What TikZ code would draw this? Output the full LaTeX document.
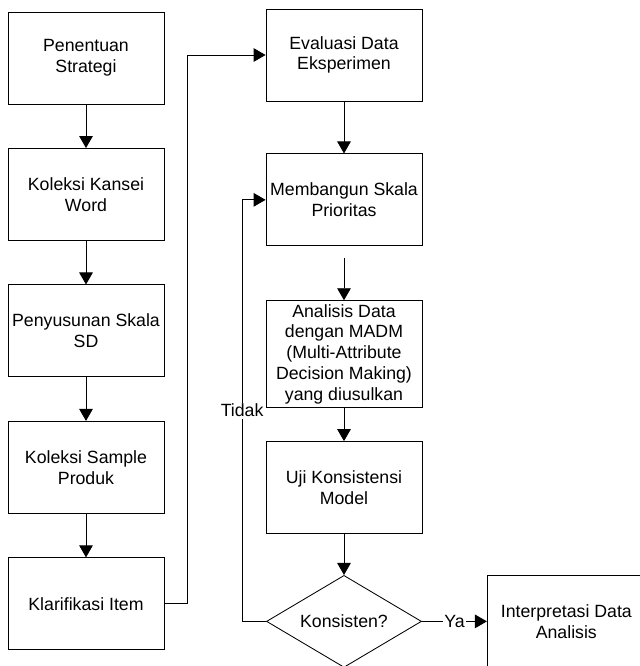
\documentclass[tikz,border=0pt]{standalone}
\usepackage{fontspec}
\setmainfont{Liberation Sans}
\usetikzlibrary{shapes.geometric, arrows.meta, positioning}

\begin{document}
\begin{tikzpicture}[
  font=\fontsize{12.6pt}{14.8pt}\selectfont,
  line width=0.6pt,
  proc/.style={rectangle, draw, align=center, inner sep=2pt,
               minimum height=2.3cm, minimum width=3.9cm},
  keputusan/.style={diamond, draw, align=center, aspect=1.7, inner sep=1pt,
               minimum height=2.3cm, minimum width=3.875cm},
  lbl/.style={fill=white, inner sep=1pt},
  arr/.style={-{Triangle[length=0.3cm, width=0.34cm]}}]
  \useasboundingbox (0,0) rectangle (16,-16.65);
  \node[proc] (strategi) at (2.15,-1.45) {Penentuan\\Strategi};
  \node[proc, below=1.09cm of strategi] (kansei)  {Koleksi Kansei\\Word};
  \node[proc, below=1.09cm of kansei]   (skala)   {Penyusunan Skala\\SD};
  \node[proc, below=1.09cm of skala]    (sampel)  {Koleksi Sample\\Produk};
  \node[proc, below=1.09cm of sampel]   (klarif)  {Klarifikasi Item};
  \node[proc] (evaluasi) at (8.6,-1.375) {Evaluasi Data\\Eksperimen};
  \node[proc, below=1.3cm of evaluasi]  (prioritas) {Membangun Skala\\Prioritas};
  \node[proc, below=1.35cm of prioritas, minimum height=2.675cm] (madm)
       {Analisis Data\\dengan MADM\\(Multi-Attribute\\Decision Making)\\yang diusulkan};
  \node[proc, below=0.825cm of madm]    (uji)     {Uji Konsistensi\\Model};
  \node[keputusan, below=1.025cm of uji] (konsisten) {Konsisten?};
  \node[proc, right=1.625cm of konsisten, minimum width=3.95cm] (interpretasi)
       {Interpretasi Data\\Analisis};
  \draw[arr] (strategi) -- (kansei);
  \draw[arr] (kansei)   -- (skala);
  \draw[arr] (skala)    -- (sampel);
  \draw[arr] (sampel)   -- (klarif);
  \draw[arr] (klarif.east) -- ++(0.575,0) |- (evaluasi.west);
  \draw[arr] (evaluasi) -- (prioritas);
  \draw[arr] ([yshift=-0.3cm]prioritas.south) -- (madm);
  \draw[arr] (madm)     -- (uji);
  \draw[arr] (uji)      -- (konsisten);
  \draw[arr] (konsisten) -- node[lbl] {Ya} (interpretasi);
  \draw[arr] (konsisten.west) -- ++(-0.6,0) |- node[lbl, pos=0.25] {Tidak} (prioritas.west);
\end{tikzpicture}
\end{document}
